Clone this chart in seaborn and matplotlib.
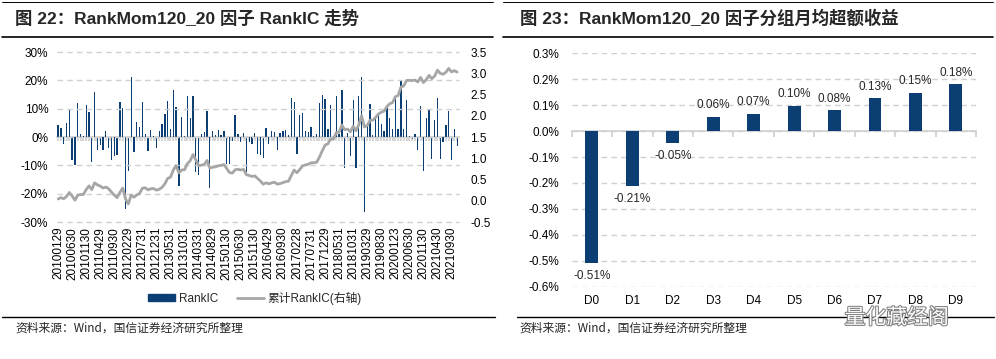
import numpy as np
import pandas as pd
import matplotlib
matplotlib.use("Agg")
import matplotlib.pyplot as plt
import seaborn as sns
from matplotlib.patches import Patch
from matplotlib.lines import Line2D
from matplotlib.ticker import FuncFormatter
import matplotlib.patheffects as pe

# monthly RankIC in percent, 2010-01 .. 2021-11
rank_ic = [
    4.1, 3.3, -2.6, 5.1, 9.6, -8.2, -10.0, 12.0, 1.2, 0.3,
    11.4, 8.8, -8.8, 15.9, -4.7, -2.9, -4.5, 2.1, -3.9, -8.0,
    -6.8, -6.2, 12.4, 10.4, -25.5, -12.1, 21.2, -5.3, 5.4, 3.5,
    12.4, 0.9, -4.9, 2.6, 0.5, -3.8, 2.1, 4.7, 8.2, 12.7,
    2.9, 16.7, 10.6, -17.3, 7.1, 0.3, 14.4, 6.8, 14.6, -12.4,
    -13.5, 0.9, 1.8, 9.3, -17.9, 2.1, 0.7, 2.6, 0.8, 2.2,
    -9.4, -9.5, -1.4, 7.9, 1.2, -1.8, 1.5, -12.4, -1.9, -2.4,
    1.4, -5.9, -6.2, -7.4, 3.3, -2.4, 2.1, 1.6, -4.5, 1.4,
    2.0, 2.6, 0.8, 13.8, 12.4, -6.1, 7.6, 8.5, 2.1, 1.6,
    3.5, 0.3, 0.9, 12.1, 14.9, 13.5, 2.9, 11.4, 0.3, 14.5,
    1.2, 16.7, -10.8, 1.5, -6.6, 13.2, -10.8, 14.4, 21.2, -26.5,
    3.8, 11.8, 0.6, 6.5, 7.6, 4.7, 2.1, 10.8, 6.8, 2.7,
    13.8, 2.9, 19.8, 2.7, 12.9, 0.3, -0.6, 1.2, -4.5, 10.8,
    -12.1, 6.8, 10.0, -7.6, 6.1, 13.8, -7.6, -1.9, 4.4, 9.2,
    -8.2, 2.9, -3.3,
]

date_labels = [
    "20100129", "20100630", "20101130", "20110429", "20110930", "20120229",
    "20120731", "20121231", "20130531", "20131031", "20140331", "20140829",
    "20150130", "20150630", "20151130", "20160429", "20160930", "20170228",
    "20170731", "20171229", "20180531", "20181031", "20190329", "20190830",
    "20200123", "20200630", "20201130", "20210430", "20210930",
]

groups = ["D0", "D1", "D2", "D3", "D4", "D5", "D6", "D7", "D8", "D9"]
group_ret = [-0.51, -0.211, -0.046, 0.056, 0.066, 0.097, 0.081, 0.126, 0.148, 0.181]

sns.set_theme(style="white")
plt.rcParams["font.family"] = ["Liberation Sans", "Noto Sans CJK SC"]
plt.rcParams["axes.unicode_minus"] = False

BLUE = "#0B3F73"
GREY = "#A6A6A6"
GRID = "#D0D0D0"
DASH = (0, (4, 3))

fig = plt.figure(figsize=(9.96, 3.59), dpi=100)

# ---- left: RankIC bars + cumulative line
df = pd.DataFrame({"idx": np.arange(len(rank_ic)), "ic": np.array(rank_ic) / 100})
df["cum"] = df["ic"].cumsum()

left_ticks = np.round(np.arange(-0.3, 0.31, 0.1), 1)
left_rect = [0.0569, 0.3816, 0.4042, 0.4735]

ax1 = fig.add_axes(left_rect)
ax1.patch.set_visible(False)
sns.barplot(data=df, x="idx", y="ic", color=BLUE, width=0.45, saturation=1,
            linewidth=0, ax=ax1)
ax1.set_xlim(-0.5, 142.75)
ax1.set_ylim(-0.3, 0.3)
ax1.set_yticks(left_ticks)
ax1.yaxis.set_major_formatter(FuncFormatter(lambda v, p: f"{round(v*100)+0:.0f}%"))
ax1.set_xticks(range(0, len(rank_ic), 5))
ax1.set_xticklabels(date_labels, rotation=90, fontsize=8.5)
ax1.tick_params(axis="both", length=0, labelsize=8.5, colors="black")
ax1.tick_params(axis="y", pad=6)
ax1.set_xlabel("")
ax1.set_ylabel("")
for s in ax1.spines.values():
    s.set_visible(False)

# dashed gridlines for the left panel, drawn at figure level
for t in left_ticks:
    yf = left_rect[1] + (t + 0.3) / 0.6 * left_rect[3]
    fig.add_artist(Line2D([left_rect[0], left_rect[0] + left_rect[2]], [yf, yf],
                          color=GRID, lw=1.0, ls=DASH, zorder=0.5))

zero1 = ax1.secondary_xaxis(0.5)
zero1.set_alignment("bottom")
zero1.set_xticks(np.arange(len(rank_ic)))
zero1.tick_params(length=3, color=GRID, labelbottom=False)
zero1.spines["bottom"].set_color(GRID)
zero1.spines["bottom"].set_linewidth(1.2)

ax2 = ax1.twinx()
ax2.patch.set_visible(False)
ax2.set_zorder(1)
sns.lineplot(data=df, x="idx", y="cum", color=GREY, lw=2, ax=ax2)
ax2.set_ylim(-0.5, 3.5)
ax2.set_yticks(np.arange(-0.5, 3.51, 0.5))
ax2.yaxis.set_major_formatter(FuncFormatter(lambda v, p: f"{v:.1f}"))
ax2.tick_params(axis="y", length=0, labelsize=8.5, pad=8, colors="black")
ax2.set_xlim(-0.5, 142.75)
ax2.set_ylabel("")
ax2.set_xlabel("")
ax2.grid(False)
for s in ax2.spines.values():
    s.set_visible(False)

handles = [Patch(color=BLUE, label="RankIC"),
           Line2D([0], [0], color=GREY, lw=2, label="累计RankIC(右轴)")]
fig.legend(handles=handles, loc="center", bbox_to_anchor=(0.256, 0.17), ncol=2,
           frameon=False, fontsize=8.5, handlelength=2.3, columnspacing=1.6,
           handletextpad=0.3, handleheight=0.5)

# ---- right: group excess returns
df2 = pd.DataFrame({"group": groups, "ret": group_ret})
ax3 = fig.add_axes([0.574, 0.2014, 0.406, 0.650])
sns.barplot(data=df2, x="group", y="ret", color=BLUE, width=0.32, saturation=1,
            linewidth=0, ax=ax3)
ax3.set_xlim(-0.5, 9.5)
ax3.set_ylim(-0.6, 0.3)
yt = np.round(np.arange(-0.6, 0.31, 0.1), 1)
ax3.set_yticks(yt)
ax3.yaxis.set_major_formatter(FuncFormatter(lambda v, p: f"{round(v, 1)+0:.1f}%"))
ax3.set_axisbelow(True)
ax3.grid(False)
ax3.yaxis.grid(True, color=GRID, lw=1.0, ls=DASH)
ax3.tick_params(axis="both", length=0, labelsize=8.5, colors="black")
ax3.tick_params(axis="y", pad=9)
ax3.tick_params(axis="x", pad=6)
ax3.set_xlabel("")
ax3.set_ylabel("")
for s in ax3.spines.values():
    s.set_visible(False)
for i, v in enumerate(group_ret):
    ax3.annotate(f"{v:.2f}%", (i, v), xytext=(0, 4 if v > 0 else -5),
                 textcoords="offset points", ha="center",
                 va="bottom" if v > 0 else "top", fontsize=8.5)

zero3 = ax3.secondary_xaxis(2 / 3)
zero3.set_alignment("bottom")
zero3.set_xticks(np.arange(-0.5, 10, 1))
zero3.tick_params(length=4, color=GRID, labelbottom=False)
zero3.spines["bottom"].set_color(GRID)
zero3.spines["bottom"].set_linewidth(1.2)

# ---- titles, rules, source notes
fig.text(0.015, 0.95, "图 22：RankMom120_20 因子 RankIC 走势", fontsize=12.5,
         fontweight="bold", va="center")
fig.text(0.522, 0.95, "图 23：RankMom120_20 因子分组月均超额收益", fontsize=12.5,
         fontweight="bold", va="center")
for x0, x1 in [(0.002, 0.495), (0.505, 0.997)]:
    fig.add_artist(Line2D([x0, x1], [0.994, 0.994], color="black", lw=0.7))
    fig.add_artist(Line2D([x0, x1], [0.897, 0.897], color="black", lw=1.2))
for x0, x1 in [(0.002, 0.497), (0.519, 0.998)]:
    fig.add_artist(Line2D([x0, x1], [0.118, 0.118], color="black", lw=1.0))
fig.text(0.015, 0.085, "资料来源：Wind，国信证券经济研究所整理", fontsize=8.5,
         family=["Noto Sans CJK SC"], va="center")
fig.text(0.522, 0.085, "资料来源：Wind，国信证券经济研究所整理", fontsize=8.5,
         family=["Noto Sans CJK SC"], va="center")
wm = fig.text(0.848, 0.115, "量化藏经阁", fontsize=15, color="white",
              family=["Noto Sans CJK SC"], va="center")
wm.set_path_effects([pe.withStroke(linewidth=1.5, foreground="#7f7f7f")])

fig.savefig("out.png", dpi=100)
